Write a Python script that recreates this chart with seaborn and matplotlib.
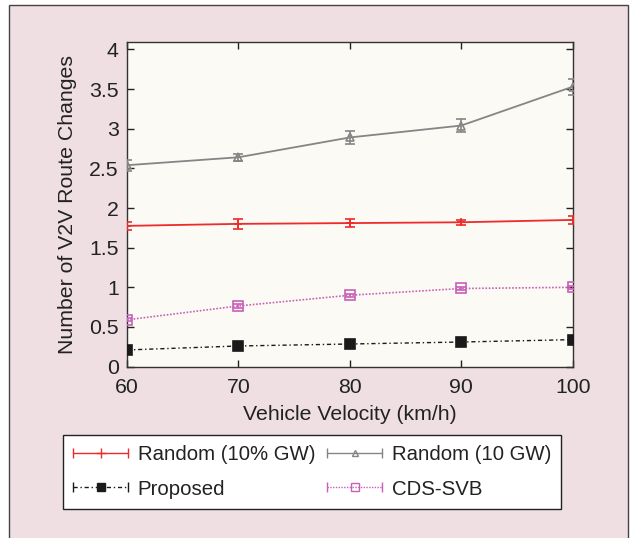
import numpy as np
import pandas as pd
import matplotlib
matplotlib.use("Agg")
import matplotlib.pyplot as plt
import seaborn as sns
from matplotlib.lines import Line2D
from matplotlib.legend_handler import HandlerBase
from matplotlib.patches import Rectangle

# ---- data ----
velocity = [60, 70, 80, 90, 100]
random_10pct = [1.775, 1.80, 1.81, 1.82, 1.85]
random_10pct_err = [0.05, 0.06, 0.05, 0.035, 0.055]
random_10gw = [2.54, 2.64, 2.89, 3.04, 3.53]
random_10gw_err = [0.07, 0.045, 0.08, 0.085, 0.10]
proposed = [0.21, 0.26, 0.285, 0.31, 0.34]
proposed_err = [0.01, 0.01, 0.01, 0.01, 0.01]
cds_svb = [0.59, 0.765, 0.90, 0.985, 1.0]
cds_svb_err = [0.02, 0.02, 0.02, 0.02, 0.02]
series_names = ["Random (10% GW)", "Random (10 GW)", "Proposed", "CDS-SVB"]
xticks = [60, 70, 80, 90, 100]
yticks = [0, 0.5, 1, 1.5, 2, 2.5, 3, 3.5, 4]
ytick_labels = ["0", "0.5", "1", "1.5", "2", "2.5", "3", "3.5", "4"]

sns.set_theme(style="ticks")
plt.rcParams["font.family"] = ["Liberation Sans", "DejaVu Sans"]

PINK_BG = "#efdfe3"
RED = "#ee2a2a"
GREY = "#858585"
BLACK = "#1a1a1a"
MAG = "#c860b8"
FS = 15.3

fig = plt.figure(figsize=(6.32, 5.38), dpi=100)
fig.patch.set_facecolor("white")
fig.patches.append(Rectangle((9 / 632, -0.01), (628 - 9) / 632, 1 - 5 / 538 + 0.01,
                             transform=fig.transFigure, facecolor=PINK_BG,
                             edgecolor="#444444", linewidth=1.0, zorder=-10))

ax = fig.add_axes([127 / 632, 1 - 366.6 / 538, (572.7 - 127) / 632, (366.6 - 42.3) / 538])
ax.set_facecolor("#fbfaf5")

specs = [
    (series_names[0], random_10pct, random_10pct_err, RED, "-", "+", "full", 1.3, 6),
    (series_names[1], random_10gw, random_10gw_err, GREY, "-", "^", "none", 1.3, 6),
    (series_names[2], proposed, proposed_err, BLACK, (0, (3, 2, 1, 2)), "s", "full", 1.0, 7),
    (series_names[3], cds_svb, cds_svb_err, MAG, (0, (1, 1)), "s", "none", 1.2, 7),
]

for name, vals, errs, col, ls, mk, fill, lw, ms in specs:
    df = pd.DataFrame({"v": velocity, "y": vals})
    sns.lineplot(data=df, x="v", y="y", ax=ax, color=col, linestyle=ls, linewidth=lw,
                 marker=mk, markersize=ms, markerfacecolor=(col if fill == "full" else "none"),
                 markeredgecolor=col, markeredgewidth=1.2, legend=False, zorder=3)
    ax.errorbar(velocity, vals, yerr=errs, fmt="none", ecolor=col, elinewidth=1.2,
                capsize=3.5, capthick=1.2, zorder=4)

ax.set_xlim(60, 100)
ax.set_ylim(0, 4.09)
ax.set_xticks(xticks)
ax.set_yticks(yticks)
ax.set_yticklabels(ytick_labels)
ax.tick_params(direction="in", top=True, right=True, length=5, width=1, colors="#222222",
               labelsize=FS, labelcolor="#222222", pad=6)
ax.tick_params(axis="x", pad=8)
for s in ax.spines.values():
    s.set_color("#333333")
    s.set_linewidth(1.0)
ax.set_xlabel("Vehicle Velocity (km/h)", fontsize=FS, color="#222222", labelpad=6)
ax.set_ylabel("Number of V2V Route Changes", fontsize=FS, color="#222222", labelpad=9)


class CapHandler(HandlerBase):
    def __init__(self, color, ls, marker, fill, ms, lw):
        super().__init__()
        self.color, self.ls, self.marker, self.fill, self.ms, self.lw = color, ls, marker, fill, ms, lw

    def create_artists(self, legend, orig_handle, xdescent, ydescent, width, height, fontsize, trans):
        y = height / 2 - ydescent
        x0, x1 = -xdescent, -xdescent + width
        line = Line2D([x0, x1], [y, y], color=self.color, linestyle=self.ls, linewidth=self.lw)
        caps = Line2D([x0, x1], [y, y], color=self.color, linestyle="none", marker="|",
                      markersize=7, markeredgewidth=1.0)
        mk = Line2D([(x0 + x1) / 2], [y], color=self.color, linestyle="none", marker=self.marker,
                    markersize=self.ms, markeredgewidth=1.0,
                    markerfacecolor=(self.color if self.fill == "full" else "none"),
                    markeredgecolor=self.color)
        arts = [line, caps, mk]
        for a in arts:
            a.set_transform(trans)
        return arts


handles, hmap = [], {}
for name, vals, errs, col, ls, mk, fill, lw, ms in specs:
    h = Line2D([], [], label=name)
    handles.append(h)
    hmap[h] = CapHandler(col, ls, mk, fill, ms - 1 if mk != "+" else 7, 1.0)

order = [0, 2, 1, 3]
leg = fig.legend([handles[i] for i in order], [series_names[i] for i in order],
                 handler_map=hmap, ncol=2, loc="upper left",
                 bbox_to_anchor=(63 / 632, 1 - 435 / 538), fontsize=14.7,
                 frameon=True, fancybox=False, edgecolor="#222222", facecolor="white",
                 framealpha=1, handlelength=2.7, handletextpad=0.45, columnspacing=0.6,
                 borderpad=0.5, labelspacing=0.75, borderaxespad=0)
leg.get_frame().set_linewidth(1.0)
for t in leg.get_texts():
    t.set_color("#222222")

fig.savefig("out.png", dpi=100, facecolor=fig.get_facecolor())
